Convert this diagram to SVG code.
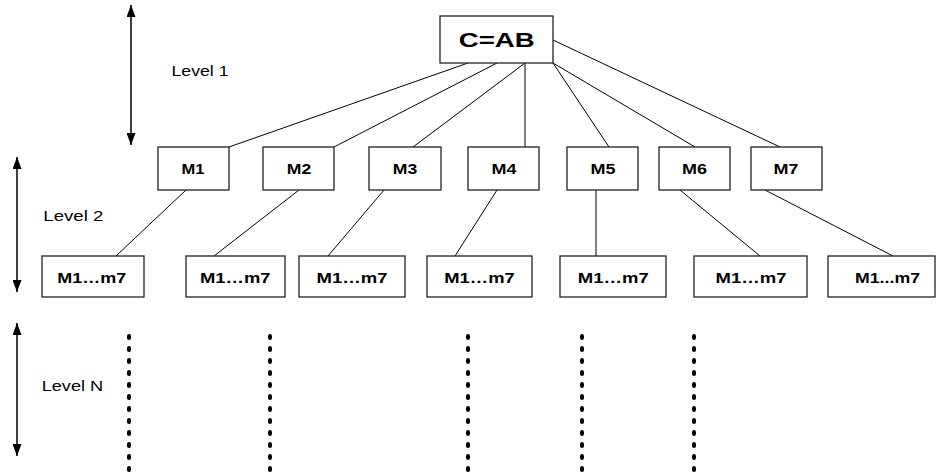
<svg xmlns="http://www.w3.org/2000/svg" width="940" height="474" viewBox="0 0 940 474">
<defs>
<marker id="ah" markerWidth="12" markerHeight="9" refX="10" refY="5" orient="auto-start-reverse" markerUnits="userSpaceOnUse" viewBox="0 0 10 10" preserveAspectRatio="none">
<path d="M0,0 L10,5 L0,10 Z" fill="#000"/>
</marker>
</defs>
<style>
.box{fill:#fff;stroke:#222;stroke-width:1.3}
.t{font-family:"Liberation Sans",Arial,sans-serif;font-weight:bold;text-anchor:middle;fill:#000}
.m{font-size:14.5px}
.s{font-size:14.5px}
.lv{font-family:"Liberation Sans",Arial,sans-serif;font-size:14px;fill:#000}
.ln{stroke:#000;stroke-width:1;fill:none}
.ar{stroke:#000;stroke-width:1.5;fill:none;marker-start:url(#ah);marker-end:url(#ah)}
.dot{stroke:#000;stroke-width:4;stroke-linecap:round;stroke-dasharray:2 10;fill:none}
</style>
<rect width="940" height="474" fill="#fff"/>
<g id="connectors">
<line class="ln" x1="468" y1="63" x2="229" y2="147"/>
<line class="ln" x1="497" y1="63" x2="334" y2="147"/>
<line class="ln" x1="525" y1="63" x2="413" y2="147"/>
<line class="ln" x1="525" y1="63" x2="525" y2="147"/>
<line class="ln" x1="553" y1="63" x2="609" y2="147"/>
<line class="ln" x1="553" y1="63" x2="695" y2="147"/>
<line class="ln" x1="553" y1="40" x2="780" y2="147"/>
<line class="ln" x1="186" y1="190" x2="116" y2="256"/>
<line class="ln" x1="299" y1="190" x2="214" y2="256"/>
<line class="ln" x1="384" y1="190" x2="328" y2="256"/>
<line class="ln" x1="497" y1="190" x2="455" y2="256"/>
<line class="ln" x1="596" y1="190" x2="596" y2="256"/>
<line class="ln" x1="680" y1="190" x2="760" y2="256"/>
<line class="ln" x1="765" y1="190" x2="893" y2="256"/>
</g>
<g id="arrows">
<line class="ar" x1="131" y1="5" x2="131" y2="145"/>
<line class="ar" x1="17" y1="157" x2="17" y2="292"/>
<line class="ar" x1="17" y1="323" x2="17" y2="456"/>
</g>
<g id="levels">
<text class="lv" x="171.5" y="76" textLength="57" lengthAdjust="spacingAndGlyphs">Level 1</text>
<text class="lv" x="43.3" y="221" textLength="60" lengthAdjust="spacingAndGlyphs">Level 2</text>
<text class="lv" x="41.7" y="391" textLength="61.5" lengthAdjust="spacingAndGlyphs">Level N</text>
</g>
<g id="dots">
<line class="dot" x1="129" y1="336" x2="129" y2="470"/>
<line class="dot" x1="270" y1="336" x2="270" y2="470"/>
<line class="dot" x1="468" y1="336" x2="468" y2="470"/>
<line class="dot" x1="582" y1="336" x2="582" y2="470"/>
<line class="dot" x1="694" y1="336" x2="694" y2="470"/>
</g>
<g id="root"><rect class="box" x="440" y="16" width="113" height="47"/><text class="t" x="496.7" y="47" font-size="21" textLength="76" lengthAdjust="spacingAndGlyphs">C=AB</text></g>
<g id="m1"><rect class="box" x="158" y="147" width="71" height="43"/><text class="t m" x="193" y="174" textLength="23" lengthAdjust="spacingAndGlyphs">M1</text></g>
<g id="m2"><rect class="box" x="263" y="147" width="71" height="43"/><text class="t m" x="299" y="174" textLength="24.5" lengthAdjust="spacingAndGlyphs">M2</text></g>
<g id="m3"><rect class="box" x="369" y="147" width="72" height="43"/><text class="t m" x="405" y="174" textLength="24.5" lengthAdjust="spacingAndGlyphs">M3</text></g>
<g id="m4"><rect class="box" x="468" y="147" width="71" height="43"/><text class="t m" x="504" y="174" textLength="25" lengthAdjust="spacingAndGlyphs">M4</text></g>
<g id="m5"><rect class="box" x="567" y="147" width="71" height="43"/><text class="t m" x="603" y="174" textLength="25" lengthAdjust="spacingAndGlyphs">M5</text></g>
<g id="m6"><rect class="box" x="659" y="147" width="71" height="43"/><text class="t m" x="694.5" y="174" textLength="25" lengthAdjust="spacingAndGlyphs">M6</text></g>
<g id="m7"><rect class="box" x="751" y="147" width="71" height="43"/><text class="t m" x="786" y="174" textLength="25" lengthAdjust="spacingAndGlyphs">M7</text></g>
<g id="s1"><rect class="box" x="42" y="256" width="102" height="41"/><text class="t s" x="91.7" y="283" textLength="69" lengthAdjust="spacingAndGlyphs">M1…m7</text></g>
<g id="s2"><rect class="box" x="186" y="256" width="99" height="41"/><text class="t s" x="235.3" y="283" textLength="70.5" lengthAdjust="spacingAndGlyphs">M1…m7</text></g>
<g id="s3"><rect class="box" x="299" y="256" width="106" height="41"/><text class="t s" x="352" y="283" textLength="71" lengthAdjust="spacingAndGlyphs">M1…m7</text></g>
<g id="s4"><rect class="box" x="427" y="256" width="105" height="41"/><text class="t s" x="479.5" y="283" textLength="70.5" lengthAdjust="spacingAndGlyphs">M1…m7</text></g>
<g id="s5"><rect class="box" x="560" y="256" width="106" height="41"/><text class="t s" x="613.3" y="283" textLength="71" lengthAdjust="spacingAndGlyphs">M1…m7</text></g>
<g id="s6"><rect class="box" x="694" y="256" width="113" height="41"/><text class="t s" x="751" y="283" textLength="71" lengthAdjust="spacingAndGlyphs">M1…m7</text></g>
<g id="s7"><rect class="box" x="828" y="256" width="107" height="41"/><text class="t s" x="887.5" y="283" textLength="65" lengthAdjust="spacingAndGlyphs">M1...m7</text></g>
</svg>
